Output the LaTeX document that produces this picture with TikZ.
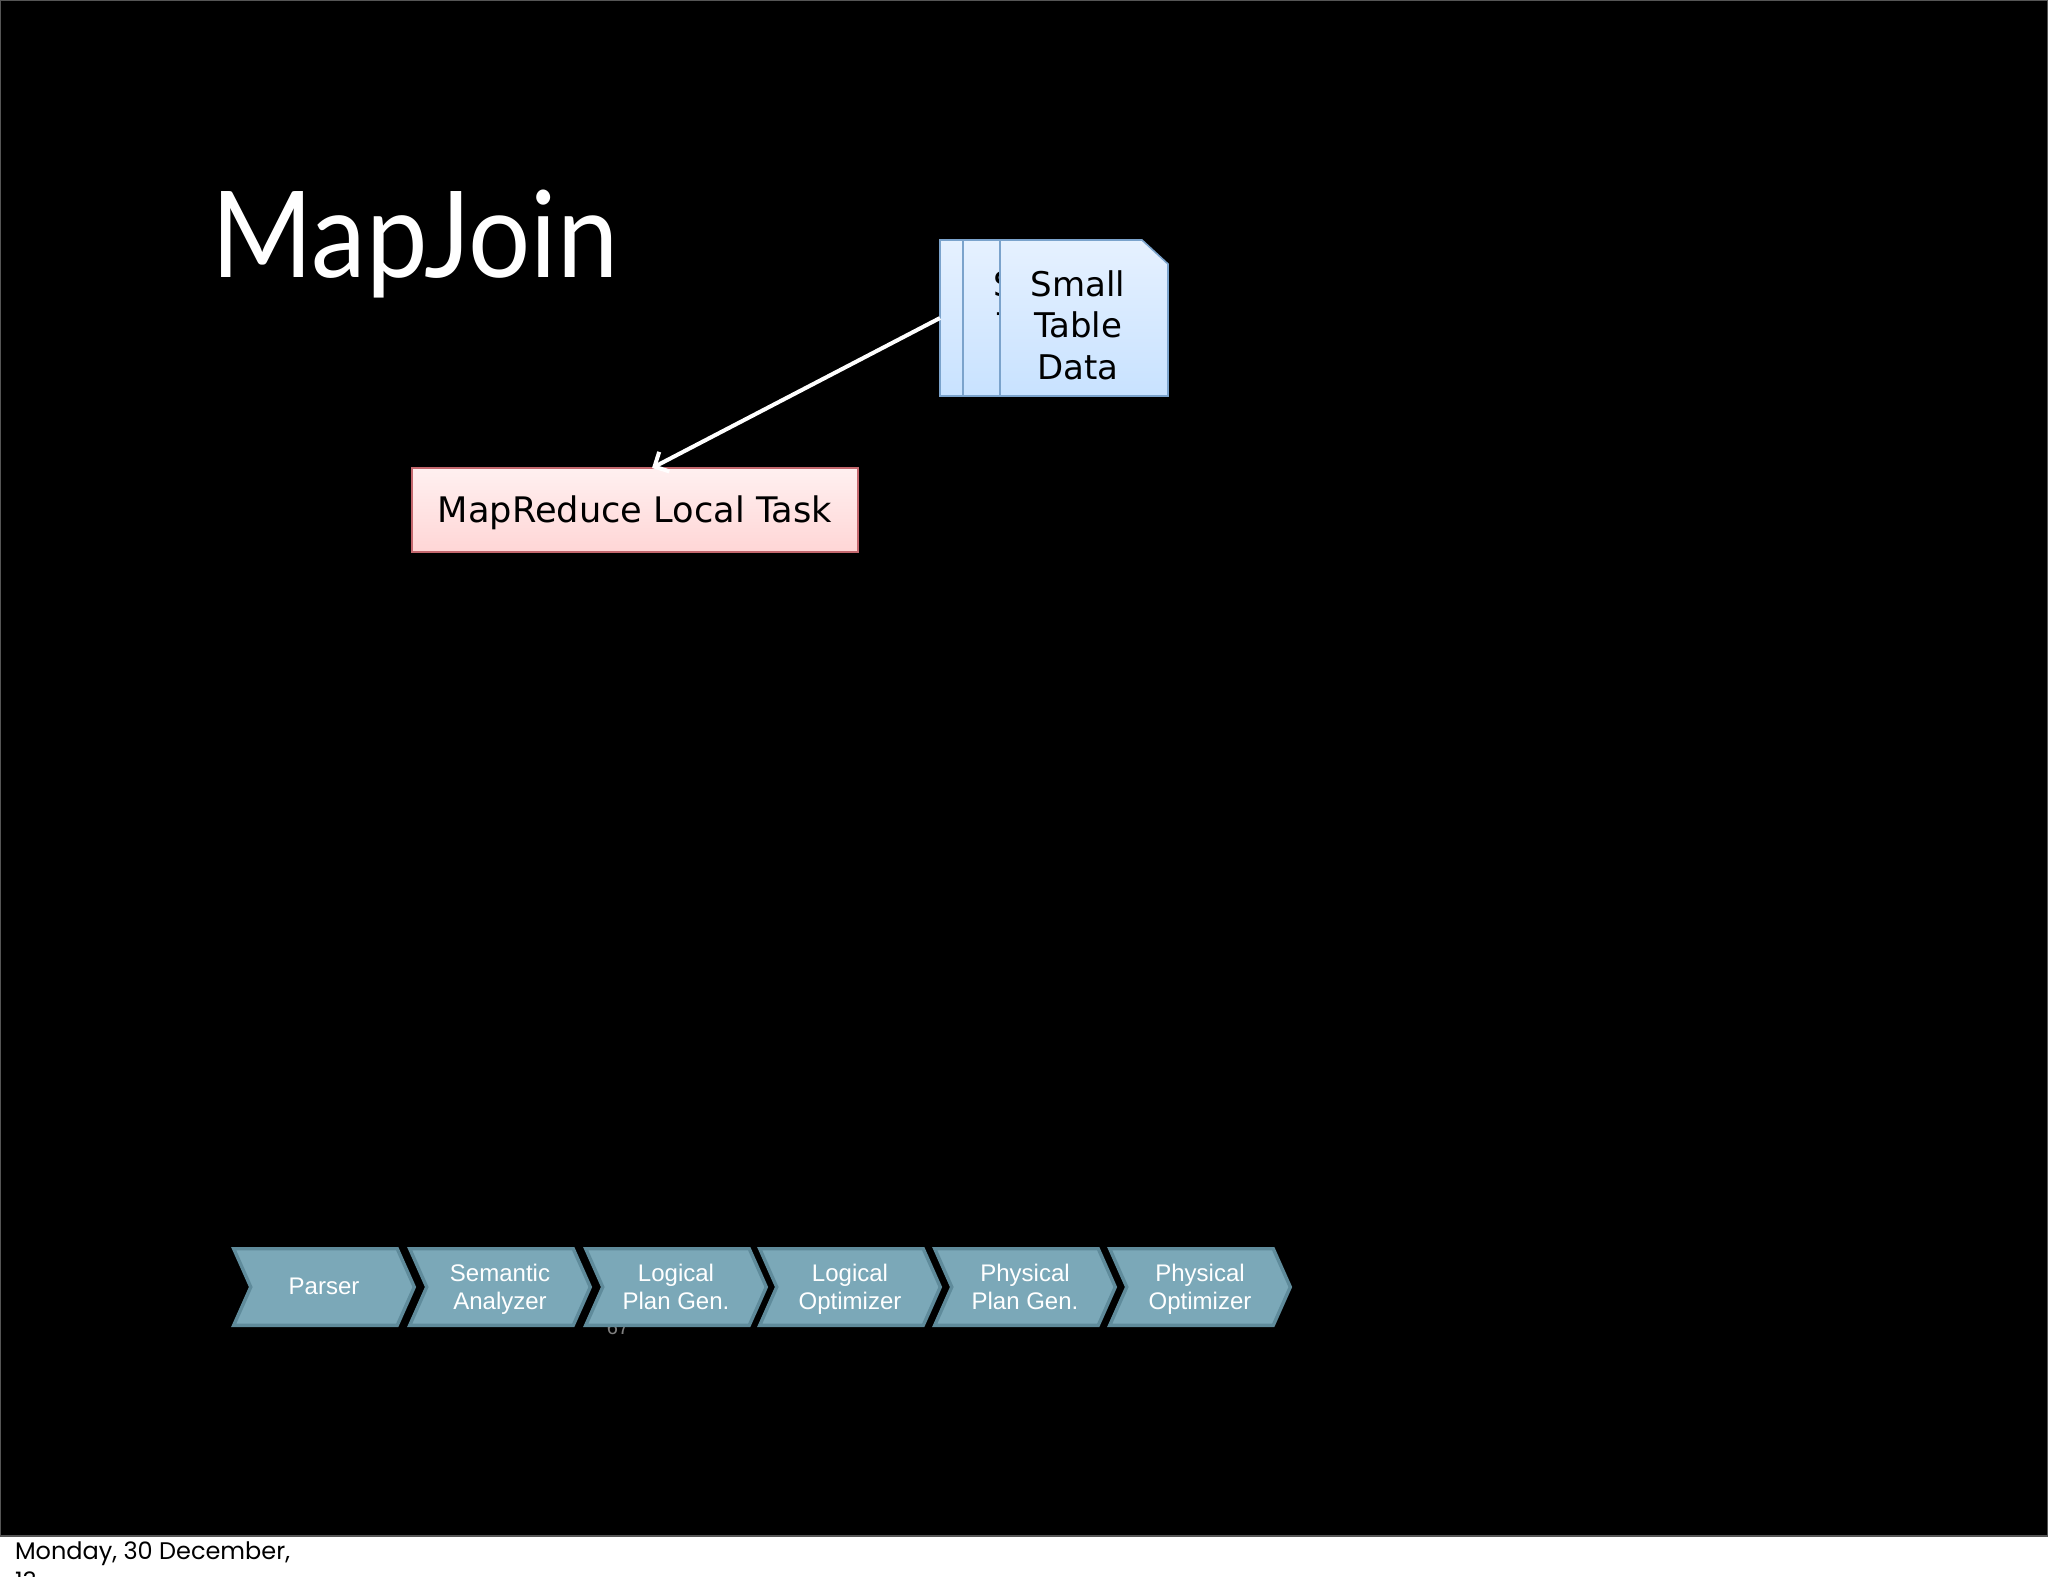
\documentclass[tikz,border=0pt]{standalone}
\usepackage{fontspec}
\setmainfont{DejaVu Sans}
\newfontfamily\titlefont[FakeStretch=0.915]{Lato}
\newfontfamily\labelfont{Liberation Sans}
\newfontfamily\footfont{Poppins}
\usetikzlibrary{arrows.meta}
\usetikzlibrary{shapes}
\definecolor{slide_border}{HTML}{555555}
\definecolor{chevron_fill}{HTML}{7BA8B8}
\definecolor{chevron_line}{HTML}{5F8B9B}
\definecolor{doc_line}{HTML}{7BA3CC}
\definecolor{doc_top}{HTML}{E6F1FF}
\definecolor{doc_bottom}{HTML}{C8E2FF}
\definecolor{task_line}{HTML}{C4686E}
\definecolor{task_top}{HTML}{FFF0F0}
\definecolor{task_bottom}{HTML}{FFD6D6}
\tikzset{
        % Pipeline stages
        node_stage/.style={signal, signal to=east, signal from=west, signal pointer angle=132, draw=chevron_line, fill=chevron_fill, line width=1.7pt, inner sep=0pt, outer sep=0pt, minimum width=90.3pt, minimum height=38.3pt},
        node_stage_text/.style={anchor=base, inner sep=0pt, align=center, text=white, font=\labelfont\fontsize{12}{14}\selectfont},
        % Stacked documents
        node_doc/.style={rectangle, inner sep=0pt, outer sep=0pt, minimum width=84pt, minimum height=78pt},
        doc_sheet/.style={draw=doc_line, line width=0.8pt, top color=doc_top, bottom color=doc_bottom},
        % Document captions
        node_doc_text/.style={align=center, inner sep=0pt, text=black, font=\fontsize{17}{20.8}\selectfont},
        % Task box
        node_task/.style={rectangle, draw=task_line, line width=0.8pt, top color=task_top, bottom color=task_bottom, inner sep=0pt, outer sep=0pt, minimum width=223pt, minimum height=42pt, text height=12pt, text depth=0pt, text=black, font=\fontsize{17.6}{20}\selectfont}
}
\newcommand{\docsheet}[1]{\draw[doc_sheet] (#1.north west) -- ([xshift=-13pt]#1.north east) -- ([yshift=-12pt]#1.north east) -- (#1.south east) -- (#1.south west) -- cycle;}
\begin{document}
\begin{tikzpicture}[x=0.5pt, y=-0.5pt]
    \useasboundingbox (0,0) rectangle (2048,1576);
    \fill[white] (0,0) rectangle (2048,1576);
    \draw[slide_border, fill=black, line width=1pt] (0,0) rectangle (2048,1536);
    \node[anchor=base west, white, font=\titlefont\fontsize{60}{70}\selectfont] (title) at (204,277) {MapJoin};
    \node[anchor=base, text=gray, font=\labelfont\fontsize{10}{12}\selectfont] (pagenum) at (618,1334) {67};
    % Documents, back to front
    \node[node_doc] (doc1) at (1024,318) {};
    \docsheet{doc1}
    \node[node_doc] (doc2) at (1047,318) {};
    \docsheet{doc2}
    \node[node_doc_text] (doc2text) at (1041,325) {Small\\Table\\Data};
    \node[node_doc] (doc3) at (1084,318) {};
    \docsheet{doc3}
    \node[node_doc_text] (doc3text) at (1078,325) {Small\\Table\\Data};
    \node[node_task] (task) at (635,510) {MapReduce Local Task};
    \draw[-{Straight Barb[length=5.5pt,width=11pt]}, white, line width=2pt] (doc1.west) -- ([xshift=8.5pt]task.north);
    % Pipeline
    \foreach \name/\cx/\by/\txt in {parser/324/1294/Parser, semantic/500/1309/Semantic\\Analyzer, logplan/676/1309/Logical\\Plan Gen., logopt/850/1309/Logical\\Optimizer, phyplan/1025/1309/Physical\\Plan Gen., phyopt/1200/1309/Physical\\Optimizer} {
        \node[node_stage] (\name) at (\cx,1287) {};
        \node[node_stage_text] (\name text) at (\cx,\by) {\txt};
    }
    \node[anchor=base west, text=black, font=\footfont\fontsize{12}{15}\selectfont] (date) at (8,1559) {Monday, 30 December,};
    \node[anchor=base west, text=black, font=\footfont\fontsize{12}{15}\selectfont] (year) at (8,1589) {13};
\end{tikzpicture}
\end{document}
